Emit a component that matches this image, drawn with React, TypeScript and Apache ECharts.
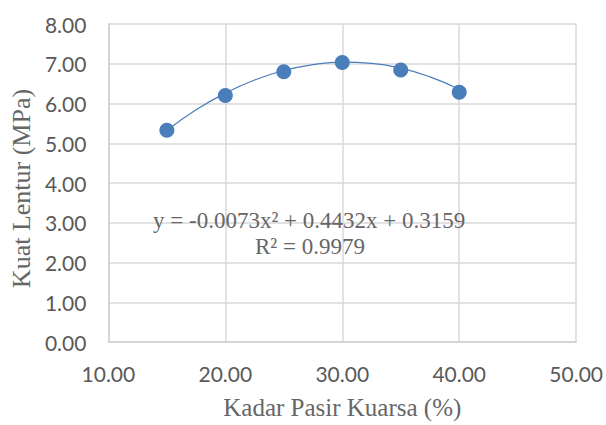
import React, { useEffect, useRef } from "react";
import * as echarts from "echarts";

const sandContent = [15, 20, 25, 30, 35, 40];
const flexuralStrength = [5.33, 6.2, 6.8, 7.03, 6.84, 6.28];
const trendX = [15, 17.5, 20, 22.5, 25, 27.5, 30, 32.5, 35, 37.5, 40];
const trendY = [5.32, 5.84, 6.26, 6.59, 6.83, 6.98, 7.04, 7.01, 6.89, 6.67, 6.36];
const equationText = "y = -0.0073x² + 0.4432x + 0.3159";
const r2Text = "R² = 0.9979";
const xTitle = "Kadar Pasir Kuarsa (%)";
const yTitle = "Kuat Lentur (MPa)";

export default function App() {
  const ref = useRef<HTMLDivElement>(null);
  useEffect(() => {
    if (!ref.current) return;
    const chart = echarts.init(ref.current, undefined, { renderer: "svg" });
    const tickFont = { fontFamily: "Lato", fontSize: 21, color: "#595959" };
    const serif = "Liberation Serif";
    chart.setOption({
      animation: false,
      backgroundColor: "#ffffff",
      grid: { left: 107, right: 27, top: 24, bottom: 80, containLabel: false },
      xAxis: {
        type: "value",
        min: 10,
        max: 50,
        interval: 10,
        name: xTitle,
        nameLocation: "middle",
        nameGap: 53,
        nameTextStyle: { fontFamily: serif, fontSize: 25, color: "#666666" },
        axisLine: { show: true, lineStyle: { color: "#d0d0d0", width: 1.5 } },
        axisTick: { show: false },
        axisLabel: { ...tickFont, margin: 21, formatter: (v: number) => v.toFixed(2) },
        splitLine: { show: true, lineStyle: { color: "#d9d9d9", width: 1.5 } },
      },
      yAxis: {
        type: "value",
        min: 0,
        max: 8,
        interval: 1,
        name: yTitle,
        nameLocation: "middle",
        nameGap: 72,
        nameTextStyle: { fontFamily: serif, fontSize: 26, color: "#666666", padding: [0, 11, 0, 0] },
        axisLine: { show: true, lineStyle: { color: "#d0d0d0", width: 1.5 } },
        axisTick: { show: false },
        axisLabel: { ...tickFont, margin: 22, formatter: (v: number) => v.toFixed(2) },
        splitLine: { show: true, lineStyle: { color: "#d9d9d9", width: 1.5 } },
      },
      series: [
        {
          type: "line",
          data: trendX.map((x, i) => [x, trendY[i]]),
          smooth: true,
          showSymbol: false,
          symbol: "none",
          lineStyle: { color: "#4a7ebb", width: 1.2 },
          z: 2,
        },
        {
          type: "scatter",
          data: sandContent.map((x, i) => [x, flexuralStrength[i]]),
          symbol: "circle",
          symbolSize: 15,
          itemStyle: { color: "#4a7ebb", opacity: 1 },
          z: 3,
        },
      ],
      graphic: [
        {
          type: "text",
          left: 153,
          top: 209,
          style: { text: equationText, font: `23px ${serif}`, fill: "#666666" },
          z: 10,
        },
        {
          type: "text",
          left: 255,
          top: 235,
          style: { text: r2Text, font: `23px ${serif}`, fill: "#666666" },
          z: 10,
        },
      ],
    });
    return () => chart.dispose();
  }, []);
  return (
    <div
      ref={ref}
      style={{ position: "fixed", left: 0, top: 0, width: 606, height: 425, background: "#fff" }}
    />
  );
}
